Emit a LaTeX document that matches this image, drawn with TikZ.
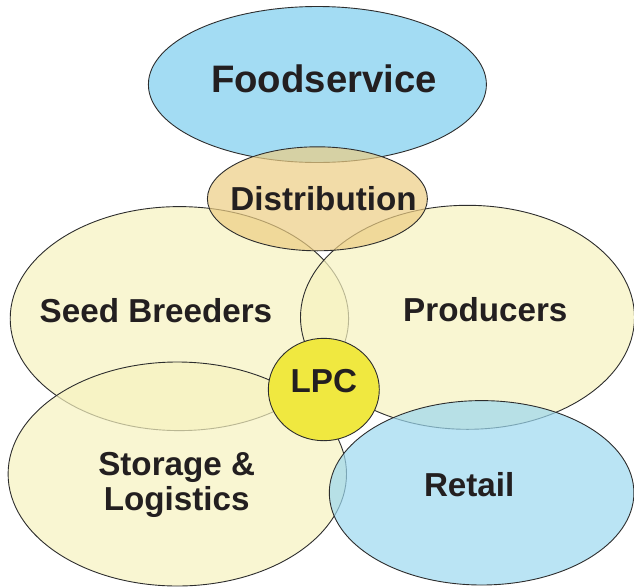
\documentclass[tikz,border=0pt]{standalone}
\usepackage{fontspec}
\setmainfont{Liberation Sans}
\usetikzlibrary{shapes.geometric}
\definecolor{foodblue}{RGB}{163,220,243}
\definecolor{retailblue}{RGB}{156,216,239}
\definecolor{paleyellow}{RGB}{246,242,191}
\definecolor{distorange}{RGB}{236,205,131}
\definecolor{lpcyellow}{RGB}{240,232,64}
\definecolor{outline}{RGB}{45,45,45}
\definecolor{labeltext}{RGB}{35,31,32}
\begin{document}
\begin{tikzpicture}[x=1pt,y=-1pt,
  region/.style={ellipse, draw=outline, line width=0.9pt, inner sep=0pt, fill opacity=0.7},
  regionlabel/.style={anchor=base, text=labeltext, inner sep=0pt, align=center,
    font=\bfseries\fontsize{33.2}{35}\selectfont},
  biglabel/.style={regionlabel, font=\bfseries\fontsize{38.3}{40}\selectfont}]
\useasboundingbox (0,0) rectangle (634,587);

% overlapping sector ellipses, back to front
\node[region, fill=foodblue, fill opacity=1, minimum width=338pt, minimum height=156pt]
  (foodservice) at (317.4,84.5) {};
\node[region, fill=paleyellow, minimum width=338.4pt, minimum height=224pt]
  (seed) at (179.4,318.6) {};
\node[region, fill=paleyellow, minimum width=334pt, minimum height=224pt]
  (producers) at (467.5,317.3) {};
\node[region, fill=paleyellow, minimum width=338.4pt, minimum height=224pt]
  (storage) at (177.3,474) {};
\node[region, fill=retailblue, minimum width=304.6pt, minimum height=184.4pt]
  (retail) at (481.6,492.8) {};
\node[region, fill=distorange, minimum width=220pt, minimum height=104pt]
  (distribution) at (317.4,198.8) {};

% centre circle
\node[region, fill=lpcyellow, fill opacity=1, minimum width=111pt, minimum height=102.4pt]
  (lpc) at (323.8,389.5) {};

% labels (base anchor sits on the last line's baseline)
\node[biglabel] (foodservicetext) at (324,92.7) {Foodservice};
\node[regionlabel] (distributiontext) at (323.5,210.4) {Distribution};
\node[regionlabel] (seedtext) at (156,322.3) {Seed Breeders};
\node[regionlabel] (producerstext) at (485.3,321) {Producers};
\node[regionlabel] (lpctext) at (323.8,392.7) {LPC};
\node[regionlabel] (storagetext) at (176.7,510) {Storage \&\\Logistics};
\node[regionlabel] (retailtext) at (469.2,496) {Retail};
\end{tikzpicture}
\end{document}
